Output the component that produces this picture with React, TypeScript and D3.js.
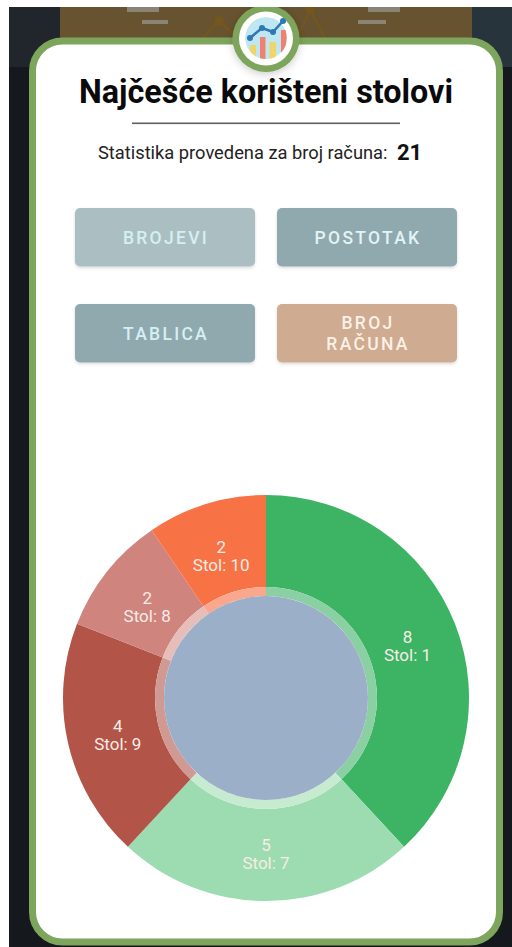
import React from 'react';
import * as d3 from 'd3';

const tables = ['Stol: 1', 'Stol: 7', 'Stol: 9', 'Stol: 8', 'Stol: 10'];
const counts = [8, 5, 4, 2, 2];
const sliceColors = ['#3cb464', '#9cdcb0', '#b25447', '#d0847e', '#f77245'];
const ringColors = ['#8ad0a2', '#c6ebd1', '#d09a92', '#e6bdb8', '#fba78d'];
const buttons = [
  { lines: ['BROJEVI'], x: 75, y: 208, fill: '#abbfc3', color: '#d5f0f2' },
  { lines: ['POSTOTAK'], x: 277, y: 208, fill: '#90a9af', color: '#e2f4f5' },
  { lines: ['TABLICA'], x: 75, y: 304, fill: '#90a9af', color: '#d5f0f2' },
  { lines: ['BROJ', 'RAČUNA'], x: 277, y: 304, fill: '#cfab92', color: '#fbf1e6' },
];
const font = 'Roboto, sans-serif';
const cx = 266, cy = 698, R = 203, rMid = 111, rIn = 102;

export default function App() {
  const pie = d3.pie<number>().sort(null)(counts);
  const outer = d3.arc<any>().innerRadius(rMid).outerRadius(R);
  const ring = d3.arc<any>().innerRadius(rIn).outerRadius(rMid);
  const labelArc = d3.arc<any>().innerRadius(152).outerRadius(152);
  const iconBars = [
    { x: 250, top: 45, w: 6, f: '#efd56a' }, { x: 260, top: 37, w: 5.5, f: '#f08070' },
    { x: 269.5, top: 42, w: 6.5, f: '#efd56a' }, { x: 281, top: 30, w: 5.5, f: '#f08070' },
  ];
  const linePts: [number, number][] = [[250, 38], [262, 28], [273, 32], [283, 21]];
  return (
    <svg width={512} height={947} style={{ position: 'absolute', left: 0, top: 0 }} fontFamily={font}>
      <defs>
        <filter id="sh" x="-10%" y="-10%" width="120%" height="130%">
          <feDropShadow dx="0" dy="1.5" stdDeviation="1.5" floodColor="#000" floodOpacity="0.15" />
        </filter>
        <filter id="sh2" x="-30%" y="-30%" width="160%" height="170%">
          <feDropShadow dx="0" dy="2" stdDeviation="4" floodColor="#000" floodOpacity="0.2" />
        </filter>
        <clipPath id="ic"><circle cx={266} cy={38} r={21} /></clipPath>
        <clipPath id="bg"><rect x={9} y={7} width={503} height={940} /></clipPath>
      </defs>
      <rect width={512} height={947} fill="#fff" />
      <rect x={9} y={7} width={503} height={940} fill="#15181c" />
      <rect x={9} y={7} width={51} height={60} fill="#20262b" />
      <rect x={472} y={7} width={40} height={60} fill="#27343c" />
      <rect x={60} y={7} width={412} height={40} fill="#67532f" />
      <g fill="#8b8474">
        <rect x={127} y={7} width={32} height={5} /><rect x={142} y={20} width={26} height={4} />
        <rect x={368} y={7} width={32} height={5} /><rect x={358} y={20} width={28} height={4} />
      </g>
      <g clipPath="url(#bg)">
        <g stroke="#74561f" strokeWidth={2.5} fill="none">
          <path d="M203,38 L219,21 L240,40" /><path d="M295,42 L310,10 L325,38" />
        </g>
        <circle cx={219} cy={21} r={5} fill="#74561f" />
        <circle cx={310} cy={9} r={5} fill="#74561f" />
      </g>
      <rect x={32.5} y={41} width={467} height={901} rx={30} fill="#fff" stroke="#7ea55c" strokeWidth={7} />
      <g clipPath="url(#bg)">
        <circle cx={266} cy={38.5} r={33.5} fill="#7ea55c" filter="url(#sh2)" />
      </g>
      <circle cx={266} cy={38.5} r={27} fill="#fff" />
      <g clipPath="url(#ic)">
        <circle cx={266} cy={38} r={21} fill="#bfe6f3" />
        {iconBars.map((b, i) => <rect key={i} x={b.x} y={b.top} width={b.w} height={60 - b.top} fill={b.f} />)}
      </g>
      <path d={d3.line()(linePts) ?? ''} stroke="#2e78b4" strokeWidth={2.5} fill="none" />
      {linePts.map((p, i) => <circle key={i} cx={p[0]} cy={p[1]} r={3} fill="#2e78b4" />)}
      <text x={266} y={103} textAnchor="middle" fontSize={32.3} fontWeight={700} fill="#0a0a0a">Najčešće korišteni stolovi</text>
      <rect x={132} y={122.5} width={268} height={1.6} fill="#5f5f5f" />
      <text x={98} y={158.5} fontSize={18.3} fill="#222">Statistika provedena za broj računa:</text>
      <text x={397} y={160} fontSize={22} fontWeight={700} fill="#111">21</text>
      {buttons.map((b, i) => (
        <g key={i}>
          <rect x={b.x} y={b.y} width={180} height={58.5} rx={5} fill={b.fill} filter="url(#sh)" />
          {b.lines.map((l, j) => (
            <text key={j} x={b.x + 91} y={b.y + 35.5 + (j - (b.lines.length - 1) / 2) * 21.5}
              textAnchor="middle" fontSize={17.5} fontWeight={500} letterSpacing={2.3} fill={b.color}>{l}</text>
          ))}
        </g>
      ))}
      <g transform={`translate(${cx},${cy})`}>
        {pie.map((d, i) => <path key={i} d={outer(d) ?? ''} fill={sliceColors[i]} />)}
        {pie.map((d, i) => <path key={i} d={ring(d) ?? ''} fill={ringColors[i]} />)}
        <circle r={rIn} fill="#9cafc8" />
        {pie.map((d, i) => {
          const [x, y] = labelArc.centroid(d);
          return (
            <text key={i} textAnchor="middle" fontSize={17} fill="#f8ece6">
              <tspan x={x} y={y + 0.5}>{d.value}</tspan>
              <tspan x={x} y={y + 18.5}>{tables[i]}</tspan>
            </text>
          );
        })}
      </g>
    </svg>
  );
}
